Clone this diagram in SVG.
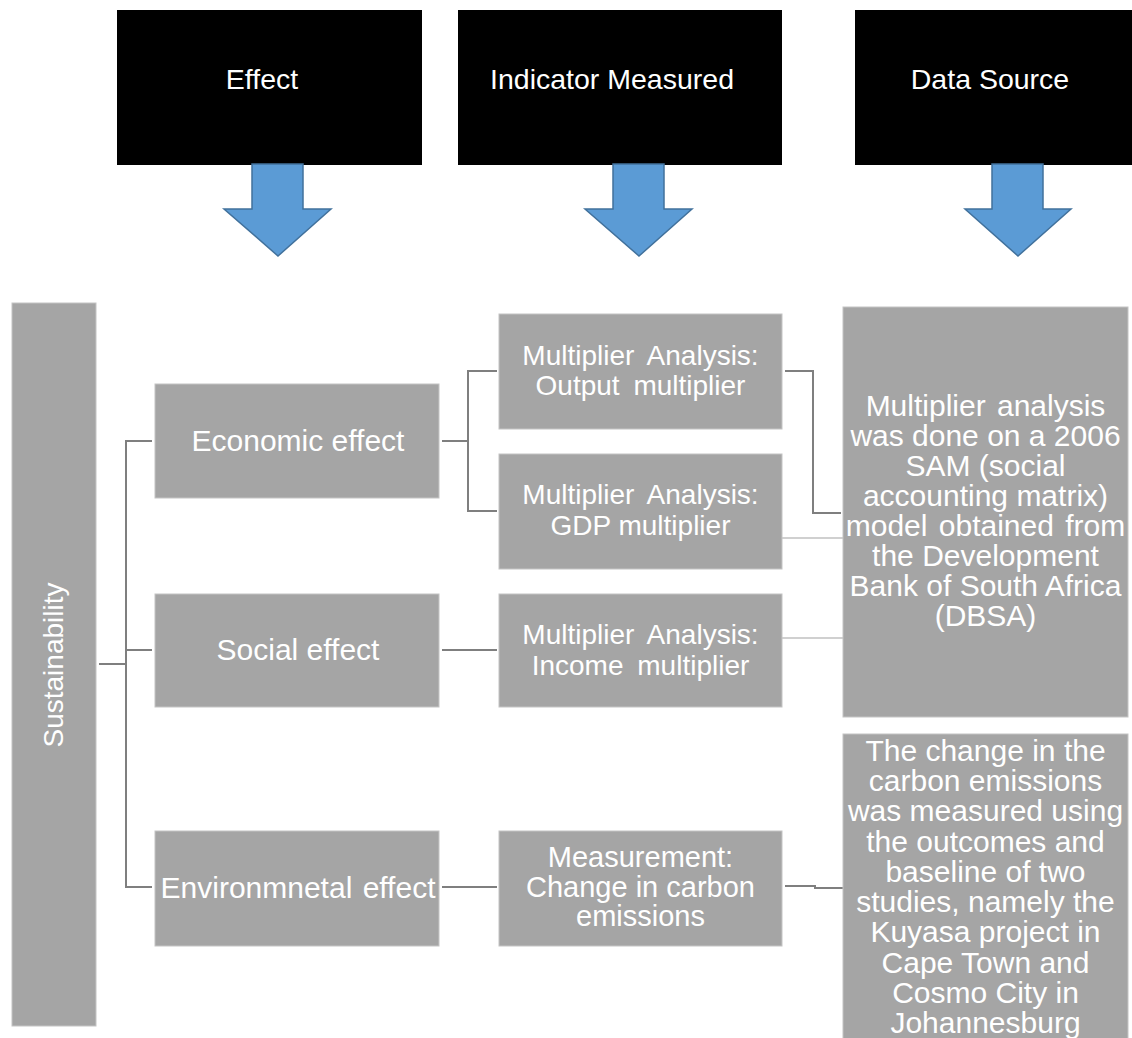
<svg xmlns="http://www.w3.org/2000/svg" width="1132" height="1038" viewBox="0 0 1132 1038">
  <style>
    .hdr { fill: #000000; }
    .hdr-text { font-family: "Liberation Sans", Arial, sans-serif; font-size: 28.5px; fill: #FFFFFF; text-anchor: middle; }
    .box { fill: #A5A5A5; stroke: #C4C4C4; stroke-width: 1; }
    .box-text { font-family: "Liberation Sans", Arial, sans-serif; font-size: 28px; fill: #FFFFFF; text-anchor: middle; }
    .effect-text { font-size: 30px; }
    .measure-text { font-size: 29px; }
    .source-text { font-size: 30px; }
    .arrow { fill: #5B9BD5; stroke: #41719C; stroke-width: 1.5; stroke-linejoin: miter; }
    .link { fill: none; stroke: #7F7F7F; stroke-width: 2; }
    .link-light { fill: none; stroke: #D0D0D0; stroke-width: 2; }
  </style>

  <!-- Column headers -->
  <g id="header-effect">
    <rect class="hdr" x="117" y="10" width="305" height="155"/>
    <text class="hdr-text" x="262" y="89">Effect</text>
  </g>
  <g id="header-indicator">
    <rect class="hdr" x="458" y="10" width="324" height="155"/>
    <text class="hdr-text" x="612" y="89">Indicator Measured</text>
  </g>
  <g id="header-source">
    <rect class="hdr" x="855" y="10" width="277" height="155"/>
    <text class="hdr-text" x="990" y="89">Data Source</text>
  </g>

  <!-- Block arrows under the headers -->
  <g id="arrows">
    <path class="arrow" d="M252,164 L303,164 L303,209 L331,209 L278,256 L224,209 L252,209 Z"/>
    <path class="arrow" d="M613,164 L664,164 L664,209 L692,209 L639,256 L585,209 L613,209 Z"/>
    <path class="arrow" d="M992,164 L1043,164 L1043,209 L1071,209 L1018,256 L965,209 L992,209 Z"/>
  </g>

  <!-- Connectors -->
  <g id="connectors">
    <!-- Sustainability to the three effects -->
    <path class="link" d="M99,664 H126"/>
    <path class="link" d="M152,441 H126 V887 H152"/>
    <path class="link" d="M126,650 H152"/>
    <!-- Economic effect to its two multipliers -->
    <path class="link" d="M442,441 H468"/>
    <path class="link" d="M497,371 H468 V511 H497"/>
    <!-- Social / environmental effect to indicators -->
    <path class="link" d="M442,650 H497"/>
    <path class="link" d="M442,887 H497"/>
    <!-- Indicators to data sources -->
    <path class="link" d="M785,371 H813 V513 H841"/>
    <path class="link-light" d="M782,538 H848"/>
    <path class="link-light" d="M782,638 H848"/>
    <path class="link" d="M785,886 H815 V888 H843"/>
  </g>

  <!-- Root -->
  <g id="sustainability">
    <rect class="box" x="12" y="303" width="84" height="723"/>
    <text class="box-text" transform="translate(63,665) rotate(-90)" x="0" y="0">Sustainability</text>
  </g>

  <!-- Effects -->
  <g id="economic-effect">
    <rect class="box" x="155" y="384" width="284" height="114"/>
    <text class="box-text effect-text" x="298" y="451">Economic effect</text>
  </g>
  <g id="social-effect">
    <rect class="box" x="155" y="594" width="284" height="113"/>
    <text class="box-text effect-text" x="298" y="660">Social effect</text>
  </g>
  <g id="environmental-effect">
    <rect class="box" x="155" y="831" width="284" height="115"/>
    <text class="box-text effect-text" x="298" y="898" word-spacing="2">Environmnetal effect</text>
  </g>

  <!-- Indicators -->
  <g id="output-multiplier">
    <rect class="box" x="499" y="314" width="283" height="115"/>
    <text class="box-text" x="640.5" y="365" word-spacing="6">Multiplier Analysis:</text>
    <text class="box-text" x="640.5" y="395" word-spacing="6">Output multiplier</text>
  </g>
  <g id="gdp-multiplier">
    <rect class="box" x="499" y="454" width="283" height="115"/>
    <text class="box-text" x="640.5" y="504" word-spacing="6">Multiplier Analysis:</text>
    <text class="box-text" x="640.5" y="535">GDP multiplier</text>
  </g>
  <g id="income-multiplier">
    <rect class="box" x="499" y="594" width="283" height="113"/>
    <text class="box-text" x="640.5" y="644" word-spacing="6">Multiplier Analysis:</text>
    <text class="box-text" x="640.5" y="675" word-spacing="6">Income multiplier</text>
  </g>
  <g id="carbon-measurement">
    <rect class="box" x="499" y="831" width="283" height="115"/>
    <text class="box-text measure-text" x="640.5" y="867">Measurement:</text>
    <text class="box-text measure-text" x="640.5" y="897">Change in carbon</text>
    <text class="box-text measure-text" x="640.5" y="926">emissions</text>
  </g>

  <!-- Data sources -->
  <g id="sam-source">
    <rect class="box" x="843" y="307" width="285" height="410"/>
    <text class="box-text source-text" x="985.5" y="416" word-spacing="3">Multiplier analysis</text>
    <text class="box-text source-text" x="985.5" y="446">was done on a 2006</text>
    <text class="box-text source-text" x="985.5" y="476">SAM (social</text>
    <text class="box-text source-text" x="985.5" y="506">accounting matrix)</text>
    <text class="box-text source-text" x="985.5" y="536" word-spacing="3">model obtained from</text>
    <text class="box-text source-text" x="985.5" y="566">the Development</text>
    <text class="box-text source-text" x="985.5" y="596">Bank of South Africa</text>
    <text class="box-text source-text" x="985.5" y="626">(DBSA)</text>
  </g>
  <g id="carbon-source">
    <rect class="box" x="843" y="734" width="285" height="310"/>
    <text class="box-text source-text" x="985.5" y="761">The change in the</text>
    <text class="box-text source-text" x="985.5" y="791">carbon emissions</text>
    <text class="box-text source-text" x="985.5" y="821">was measured using</text>
    <text class="box-text source-text" x="985.5" y="852">the outcomes and</text>
    <text class="box-text source-text" x="985.5" y="882">baseline of two</text>
    <text class="box-text source-text" x="985.5" y="912">studies, namely the</text>
    <text class="box-text source-text" x="985.5" y="942">Kuyasa project in</text>
    <text class="box-text source-text" x="985.5" y="973">Cape Town and</text>
    <text class="box-text source-text" x="985.5" y="1003">Cosmo City in</text>
    <text class="box-text source-text" x="985.5" y="1033">Johannesburg</text>
  </g>
</svg>
